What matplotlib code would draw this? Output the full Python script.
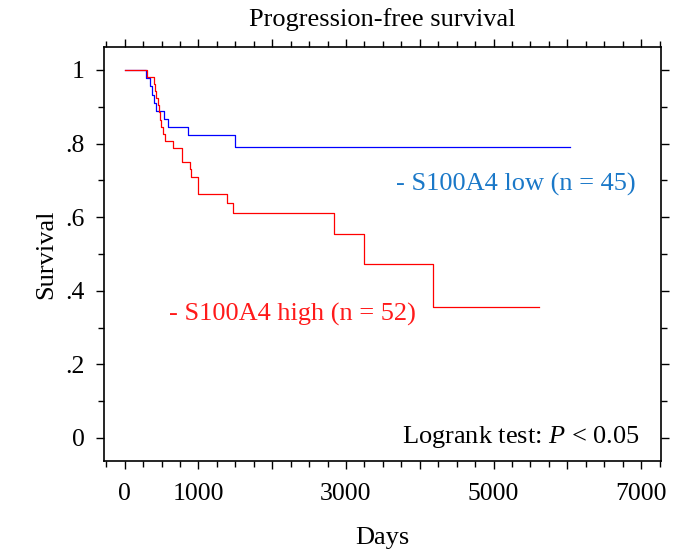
import matplotlib
matplotlib.use("Agg")
import matplotlib.pyplot as plt
from matplotlib.ticker import FixedLocator, MultipleLocator

plt.rcParams['font.family'] = ['Liberation Serif', 'DejaVu Serif']
plt.rcParams['mathtext.fontset'] = 'custom'
plt.rcParams['mathtext.rm'] = 'Liberation Serif'
plt.rcParams['mathtext.it'] = 'Liberation Serif:italic'

# Kaplan-Meier steps (days, survival)
low_days = [0, 293, 347, 374, 396, 423, 527, 581, 865, 1490, 6040]
low_surv = [1.0, 0.978, 0.956, 0.933, 0.911, 0.889, 0.867, 0.844, 0.822, 0.791, 0.791]

high_days = [0, 300, 395, 410, 425, 455, 470, 480, 490, 520, 545, 655, 780,
             880, 905, 1000, 1390, 1470, 2840, 3240, 4180, 5610]
high_surv = [1.0, 0.981, 0.962, 0.942, 0.923, 0.904, 0.885, 0.865, 0.846, 0.827,
             0.808, 0.788, 0.75, 0.731, 0.71, 0.663, 0.639, 0.612, 0.553, 0.472,
             0.356, 0.356]

x_major = [0, 1000, 2000, 3000, 4000, 5000, 6000, 7000]
x_labels = ['0', '1000', '', '3000', '', '5000', '', '7000']
y_major = [0, 0.2, 0.4, 0.6, 0.8, 1.0]
y_labels = ['0', '.2', '.4', '.6', '.8', '1']

fig = plt.figure(figsize=(6.96, 5.49), dpi=100)
ax = fig.add_axes([0.1494, 0.1603, 0.8003, 0.7541])

ax.step(low_days, low_surv, where='post', color='#0000ff', lw=0.9)
ax.step(high_days, high_surv, where='post', color='#ff0000', lw=0.9)

ax.set_xlim(-280, 7270)
ax.set_ylim(-0.0625, 1.0625)

ax.xaxis.set_major_locator(FixedLocator(x_major))
ax.set_xticklabels(x_labels)
ax.xaxis.set_minor_locator(MultipleLocator(250))
ax.yaxis.set_major_locator(FixedLocator(y_major))
ax.set_yticklabels(y_labels)
ax.yaxis.set_minor_locator(MultipleLocator(0.1))

ax.tick_params(which='both', direction='out', top=True, right=True, width=1.0,
               labelsize=18.5)
ax.tick_params(which='major', length=6)
ax.tick_params(axis='x', which='major', pad=10)
ax.tick_params(axis='y', which='major', pad=8)
ax.tick_params(which='minor', length=4)
for s in ax.spines.values():
    s.set_linewidth(1.2)

ax.set_title('Progression-free survival', fontsize=19, pad=15)
ax.set_xlabel('Days', fontsize=19, labelpad=16)
ax.set_ylabel('Survival', fontsize=19, labelpad=6)

ax.text(0.955, 0.669, '- S100A4 low (n = 45)', transform=ax.transAxes,
        ha='right', va='center', fontsize=19, color='#1a78c8')
ax.text(0.117, 0.355, '- S100A4 high (n = 52)', transform=ax.transAxes,
        ha='left', va='center', fontsize=19, color='#ff1a1a')
ax.text(0.962, 0.058, 'Logrank test: $P$ < 0.05', transform=ax.transAxes,
        ha='right', va='center', fontsize=19, color='black')

fig.savefig('out.png', dpi=100)
